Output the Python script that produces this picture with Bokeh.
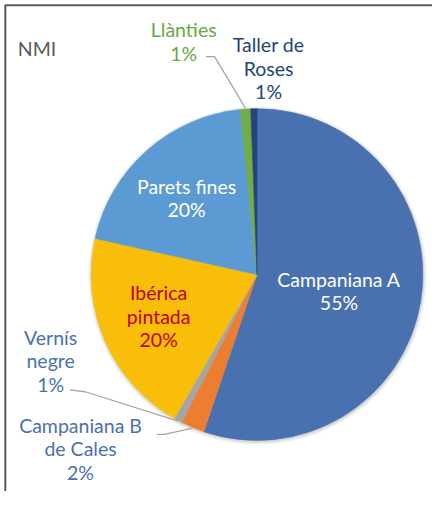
import math
from bokeh.plotting import figure
from bokeh.models import Range1d, ColumnDataSource
from bokeh.embed import file_html
from bokeh.resources import INLINE
from bokeh.core.properties import value

# ---- data ----
categories = ["Campaniana A", "Campaniana B\nde Cales", "Vernís\nnegre", "Ibérica\npintada",
              "Parets fines", "Llànties", "Taller de\nRoses"]
values = [55.2, 2.3, 0.8, 20.2, 19.9, 1.0, 0.6]
colors = ["#4A71AF", "#EC7D31", "#A5A5A5", "#F9BE0A", "#5B9AD3", "#70AD47", "#254479"]
label_colors = ["#FFFFFF", "#4A71AF", "#4A71AF", "#C00000", "#FFFFFF", "#6AA842", "#254479"]
title_text = "NMI"

# ---- layout (reference-pixel units, y measured upward) ----
RW, RH = 448, 507
W, H = 432, 491
cx, cy, R = 266, 224, 172
label_pos = [(351, 207), (83, 44), (52, 135), (164, 181), (193, 303), (190, 465), (278, 437)]
leaders = {5: [(213, 449), (222, 449)], 2: [(72, 105), (88, 103)], 1: [(162, 59), (170, 59)]}

p = figure(width=W, height=H, output_backend="svg", toolbar_location=None,
           x_range=Range1d(0, RW), y_range=Range1d(0, RH), min_border=0,
           background_fill_color="white", border_fill_color="white")
p.axis.visible = False
p.grid.visible = False
p.outline_line_color = None

total = sum(values)
starts, ends, mids = [], [], []
cum = 0.0
for v in values:
    a0 = math.pi / 2 - 2 * math.pi * cum / total
    a1 = math.pi / 2 - 2 * math.pi * (cum + v) / total
    starts.append(a0)
    ends.append(a1)
    mids.append((a0 + a1) / 2)
    cum += v

# soft shadow
for k, al in [(4, 0.03), (2.5, 0.05), (1.2, 0.08)]:
    p.circle(x=cx + 0.5, y=cy - 1, radius=R + k, fill_color="black", fill_alpha=al, line_color=None)

src = ColumnDataSource(dict(start=starts, end=ends, color=colors))
p.wedge(x=cx, y=cy, radius=R, start_angle="start", end_angle="end", direction="clock",
        fill_color="color", line_color="color", line_width=0.6, source=src)

# leader lines
for i, pts in leaders.items():
    ex = cx + R * math.cos(mids[i])
    ey = cy + R * math.sin(mids[i])
    p.line([pts[0][0], pts[1][0], ex], [pts[0][1], pts[1][1], ey],
           line_color="#A6A6A6", line_width=1.3)

pct = [f"{round(v)}%" for v in values]
texts = [f"{c}\n{pc}" for c, pc in zip(categories, pct)]
tsrc = ColumnDataSource(dict(x=[a for a, b in label_pos], y=[b for a, b in label_pos],
                             t=texts, c=label_colors))
p.text(x="x", y="y", text="t", text_color="c", source=tsrc, text_align="center",
       text_baseline="middle", text_font=value("Lato"), text_font_size="19.5px",
       text_line_height=1.03)

p.text(x=[18], y=[457], text=[title_text], text_color="#595959", text_align="left",
       text_baseline="middle", text_font=value("Lato"), text_font_size="19.5px")

# chart border (top and left)
p.line([5, 5, RW], [0, RH - 5, RH - 5], line_color="#595959", line_width=2)

open("out.html", "w").write(file_html(p, INLINE))
